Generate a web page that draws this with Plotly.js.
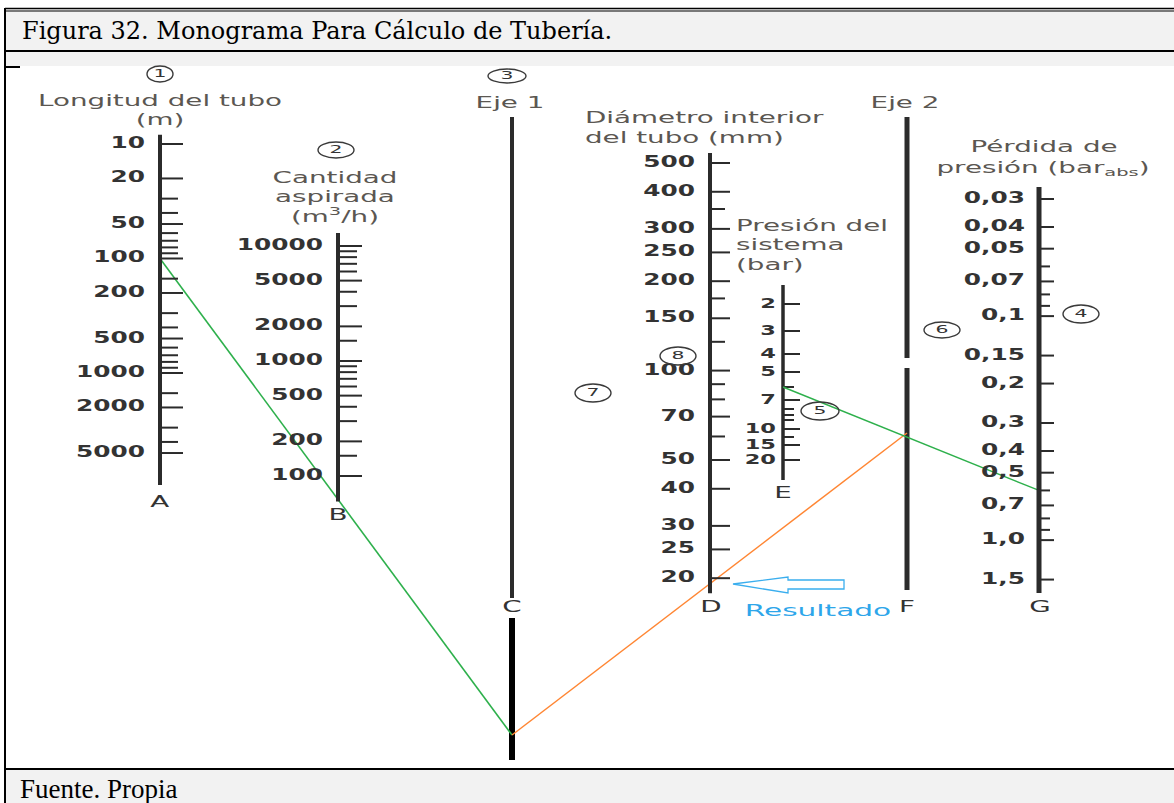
<!DOCTYPE html>
<html>
<head>
<meta charset="utf-8">
<script src="https://cdn.plot.ly/plotly-3.0.1.min.js"></script>
<style>
  html, body { margin: 0; padding: 0; background: #fff; }
  #chart { width: 1174px; height: 803px; }
  /* the original lettering is stretched sideways */
  .textpoint text { transform-box: fill-box; }
  .textpoint text[text-anchor="end"] { transform-origin: right center; transform: scaleX(1.55); }
  .textpoint text[text-anchor="middle"] { transform-origin: center center; transform: scaleX(1.85); }
  .textpoint text[text-anchor="start"] { transform-origin: left center; transform: scaleX(1.85); }
</style>
</head>
<body>
<div id="chart"></div>
<script>
var W = 1174, H = 803;

// A - Longitud del tubo (m)
var aLabels = [10, 20, 50, 100, 200, 500, 1000, 2000, 5000];
var aMinor = [30, 40, 60, 70, 80, 90, 150, 300, 400, 600, 700, 800, 900, 1500, 3000, 4000];
// B - Cantidad aspirada (m3/h)
var bLabels = [10000, 5000, 2000, 1000, 500, 200, 100];
var bMinor = [9000, 8000, 7000, 6000, 4000, 3000, 1500, 900, 800, 700, 600, 400, 300, 150];
// D - Diametro interior del tubo (mm)
var dLabels = [500, 400, 300, 250, 200, 150, 100, 70, 50, 40, 30, 25, 20];
var dMinor = [350, 175, 125, 90, 80, 60];
// E - Presion del sistema (bar); this scale is not logarithmic in the figure
var eLabels = ['2', '3', '4', '5', '7', '10', '15', '20'];
var ePx = [304, 331, 354, 372, 400, 429, 445, 460];
var eMinorPx = [387, 409, 415, 420, 437];
// G - Perdida de presion (bar abs)
var gValues = [0.03, 0.04, 0.05, 0.07, 0.1, 0.15, 0.2, 0.3, 0.4, 0.5, 0.7, 1.0, 1.5];
var gLabels = ['0,03', '0,04', '0,05', '0,07', '0,1', '0,15', '0,2', '0,3', '0,4', '0,5', '0,7', '1,0', '1,5'];
var gMinor = [0.06, 0.08, 0.09, 0.6, 0.8, 0.9];

// worked example read on the chart
var readA = 100, readE = 6, readG = 0.6;
var pivotC = 735, pointF = 433;   // on Eje 1 / Eje 2, which carry no values

// calibration of each log scale: value v0 sits at pixel p0, k pixels per decade
var scA = {v0: 10, p0: 144, k: 114.5};
var scB = {v0: 10000, p0: 246, k: -115};
var scD = {v0: 500, p0: 163, k: -297};
var scG = {v0: 0.03, p0: 199, k: 224};

function logRange(s) {
  var l = Math.log10(s.v0);
  return [l + (H - s.p0) / s.k, l - s.p0 / s.k];
}
function toPx(s, v) { return s.p0 + s.k * (Math.log10(v) - Math.log10(s.v0)); }

var ink = '#2b2b2b';
var numFont = {family: 'DejaVu Sans', size: 16, color: '#333', weight: 'bold'};
var eFont = {family: 'DejaVu Sans', size: 14.5, color: '#333', weight: 'bold'};
var titleFont = {family: 'DejaVu Sans', size: 15, color: '#5b5752'};

var xA = 160, xB = 338, xC = 512, xD = 710, xE = 783, xF = 907, xG = 1039;

function bar(x, y0, y1, yaxis, w, color) {
  return {x: [x, x], y: [y0, y1], yaxis: yaxis, mode: 'lines',
    line: {color: color || ink, width: w}, hoverinfo: 'skip'};
}
function ticks(x, vals, len, yaxis, w) {
  var xs = [], ys = [];
  vals.forEach(function (v) { xs.push(x, x + len, null); ys.push(v, v, null); });
  return {x: xs, y: ys, yaxis: yaxis, mode: 'lines', line: {color: ink, width: w || 2}, hoverinfo: 'skip'};
}
function labels(x, vals, texts, yaxis, font) {
  return {x: vals.map(function () { return x; }), y: vals, text: texts, yaxis: yaxis,
    mode: 'text', textposition: 'middle left', textfont: font || numFont, hoverinfo: 'skip', cliponaxis: false};
}
function words(items, pos, font) {
  return {x: items.map(function (d) { return d[1]; }), y: items.map(function (d) { return d[2]; }),
    text: items.map(function (d) { return d[0]; }), mode: 'text', textposition: pos,
    textfont: font, hoverinfo: 'skip', cliponaxis: false};
}
function str(a) { return a.map(String); }

var data = [
  // A
  bar(xA, 8.3, 9500, 'y2', 4),
  ticks(xA, aLabels, 23, 'y2'),
  ticks(xA, aMinor, 18, 'y2'),
  labels(xA - 15, aLabels, str(aLabels), 'y2'),
  // B
  bar(xB, 13000, 60, 'y3', 4),
  ticks(xB, bLabels, 24, 'y3'),
  ticks(xB, bMinor, 19, 'y3'),
  labels(xB - 15, bLabels, str(bLabels), 'y3'),
  // Eje 1
  bar(xC, 117, 598, 'y', 4),
  bar(xC, 618, 760, 'y', 6, '#000'),
  // D
  bar(xD, 540, 17.8, 'y4', 4),
  ticks(xD, dLabels, 20, 'y4'),
  ticks(xD, dMinor, 15, 'y4'),
  labels(xD - 15, dLabels, str(dLabels), 'y4'),
  // E
  bar(xE, 285, 480, 'y', 3.5),
  ticks(xE, ePx, 17, 'y'),
  ticks(xE, eMinorPx, 11, 'y'),
  labels(xE - 7, ePx, eLabels, 'y', eFont),
  // Eje 2
  bar(xF, 117, 358, 'y', 5),
  bar(xF, 368, 590, 'y', 5),
  // G
  bar(xG, 0.0265, 1.72, 'y5', 5),
  ticks(xG, gValues, 15, 'y5'),
  ticks(xG, gMinor, 11, 'y5'),
  labels(xG - 14, gValues, gLabels, 'y5'),
  // construction lines
  {x: [xA, xC], y: [toPx(scA, readA), pivotC], mode: 'lines', line: {color: '#2eb04c', width: 1.6}, hoverinfo: 'skip'},
  {x: [xC, xF], y: [pivotC, pointF], mode: 'lines', line: {color: '#ff8633', width: 1.5}, hoverinfo: 'skip'},
  {x: [xE, xG], y: [ePx[4] - 13, toPx(scG, readG)], mode: 'lines', line: {color: '#2eb04c', width: 1.4}, hoverinfo: 'skip'},
  // titles
  words([
    ['Longitud del tubo', 160, 102], ['(m)', 160, 121],
    ['Cantidad', 335, 179], ['aspirada', 335, 198], ['(m<sup>3</sup>/h)', 335, 218],
    ['Eje 1', 510, 104], ['Eje 2', 905, 104],
    ['Pérdida de', 1044, 148], ['presión (bar<sub>abs</sub>)', 1043, 169]
  ], 'middle center', titleFont),
  words([
    ['Diámetro interior', 585, 119], ['del tubo (mm)', 585, 139],
    ['Presión del', 736, 227], ['sistema', 736, 246], ['(bar)', 736, 266]
  ], 'middle right', titleFont),
  words([
    ['A', xA, 503], ['B', xB, 516], ['C', xC, 608], ['D', 711, 608],
    ['E', xE, 494], ['F', xF, 608], ['G', 1040, 608]
  ], 'middle center', {family: 'DejaVu Sans', size: 15, color: '#333'}),
  words([['Resultado', 818, 612]], 'middle center', {family: 'DejaVu Sans', size: 16, color: '#2ea6ea'})
];

var circles = [
  ['1', 160, 74, 13, 8], ['2', 336, 150, 18, 8], ['3', 507, 76, 19, 7], ['4', 1081, 314, 18, 9],
  ['5', 820, 411, 19, 9], ['6', 942, 330, 18, 8], ['7', 593, 393, 18, 9], ['8', 678, 356, 18, 9]
];
data.push(words(circles.map(function (c) { return [c[0], c[1], c[2]]; }), 'middle center',
  {family: 'DejaVu Sans', size: 11, color: '#333'}));

var shapes = [
  {type: 'rect', x0: 5, x1: W, y0: 8, y1: 66, fillcolor: '#f2f2f2', line: {width: 0}, layer: 'below'},
  {type: 'rect', x0: 5, x1: W, y0: 769, y1: H, fillcolor: '#f2f2f2', line: {width: 0}, layer: 'below'},
  {type: 'line', x0: 5, x1: W, y0: 8.5, y1: 8.5, line: {color: '#000', width: 1.5}},
  {type: 'line', x0: 5, x1: W, y0: 11, y1: 11, line: {color: '#000', width: 1}},
  {type: 'line', x0: 5, x1: W, y0: 51, y1: 51, line: {color: '#000', width: 2}},
  {type: 'line', x0: 5, x1: 20, y0: 67, y1: 67, line: {color: '#000', width: 2}},
  {type: 'line', x0: 5, x1: 5, y0: 8, y1: H, line: {color: '#000', width: 2}},
  {type: 'line', x0: 5, x1: W, y0: 769, y1: 769, line: {color: '#000', width: 2}},
  {type: 'path', path: 'M 733 584 L 788 577 L 788 580 L 844 580 L 844 589 L 788 589 L 788 593 Z',
    fillcolor: '#fff', line: {color: '#3aaeee', width: 1.3}}
];
circles.forEach(function (c) {
  shapes.push({type: 'circle', x0: c[1] - c[3], x1: c[1] + c[3], y0: c[2] - c[4], y1: c[2] + c[4],
    line: {color: '#3a3a3a', width: 1.4}});
});
shapes.forEach(function (s) { s.xref = 'x'; s.yref = 'y'; });

var layout = {
  width: W, height: H,
  margin: {l: 0, r: 0, t: 0, b: 0},
  paper_bgcolor: '#fff', plot_bgcolor: '#fff',
  showlegend: false,
  xaxis: {range: [0, W], visible: false, fixedrange: true},
  yaxis: {range: [H, 0], visible: false, fixedrange: true},
  yaxis2: {type: 'log', range: logRange(scA), overlaying: 'y', anchor: 'x', visible: false, fixedrange: true},
  yaxis3: {type: 'log', range: logRange(scB), overlaying: 'y', anchor: 'x', visible: false, fixedrange: true},
  yaxis4: {type: 'log', range: logRange(scD), overlaying: 'y', anchor: 'x', visible: false, fixedrange: true},
  yaxis5: {type: 'log', range: logRange(scG), overlaying: 'y', anchor: 'x', visible: false, fixedrange: true},
  shapes: shapes,
  annotations: [
    {x: 20, y: 31, xref: 'x', yref: 'y', xanchor: 'left', yanchor: 'middle', showarrow: false,
      text: 'Figura 32. Monograma Para Cálculo de Tubería.',
      font: {family: 'DejaVu Serif', size: 24, color: '#000'}},
    {x: 18, y: 789, xref: 'x', yref: 'y', xanchor: 'left', yanchor: 'middle', showarrow: false,
      text: 'Fuente. Propia',
      font: {family: 'Liberation Serif', size: 27, color: '#000'}}
  ]
};

Plotly.newPlot('chart', data, layout, {displayModeBar: false, staticPlot: true});
</script>
</body>
</html>
